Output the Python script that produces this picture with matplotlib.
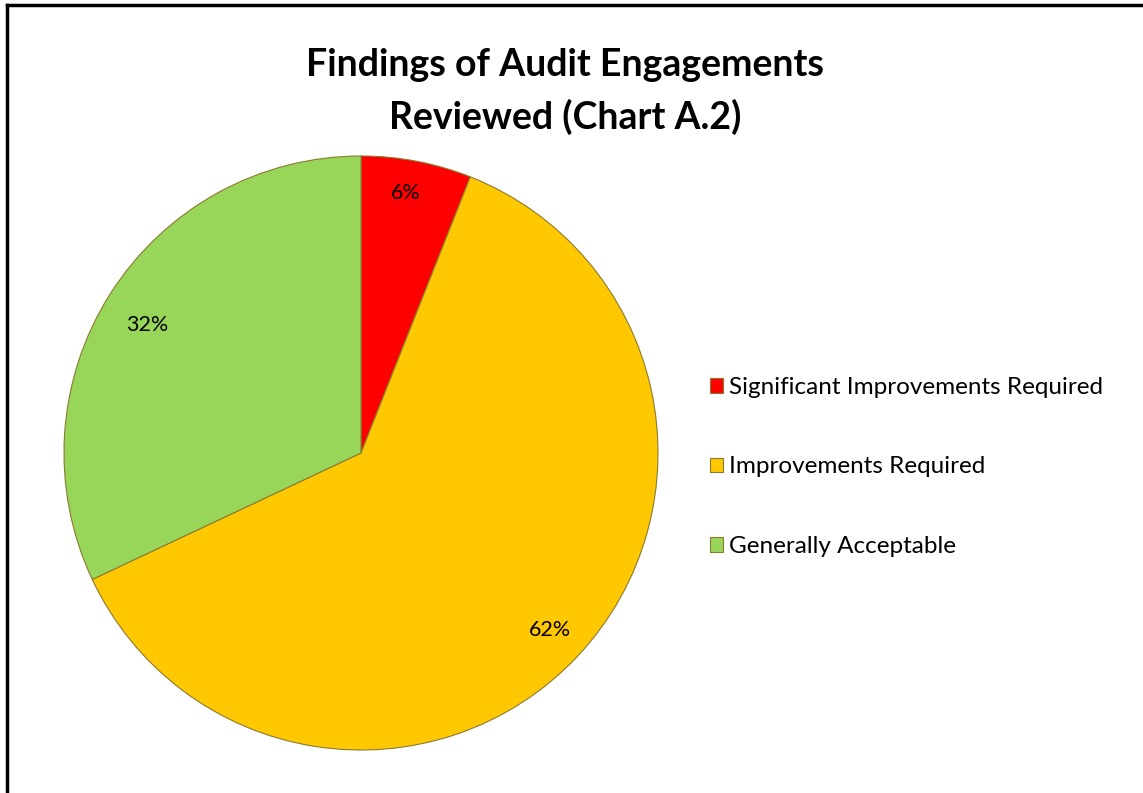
import matplotlib
matplotlib.use("Agg")
import matplotlib.pyplot as plt
from matplotlib.lines import Line2D

# chart values (percent of engagements reviewed)
categories = ["Significant Improvements Required", "Improvements Required", "Generally Acceptable"]
shares = [6, 62, 32]
colors = ["#FF0000", "#FFC800", "#98D65A"]

plt.rcParams['font.family'] = ['Lato', 'DejaVu Sans']

W, H = 1143, 793
fig = plt.figure(figsize=(W / 100, H / 100), dpi=100)

# black frame: only the left and top edges show in the picture
fig.lines.append(Line2D([7 / W, 7 / W], [0, 1 - 5 / H], transform=fig.transFigure, color="black", lw=2.5))
fig.lines.append(Line2D([7 / W, 1], [1 - 5 / H, 1 - 5 / H], transform=fig.transFigure, color="black", lw=2.5))

# pie axes: centre (361, 453), radius 297 px
cx, cy, r = 361, 453, 297
ax = fig.add_axes([(cx - r) / W, (H - cy - r) / H, 2 * r / W, 2 * r / H])
wedges, texts = ax.pie(shares, colors=colors, startangle=90, counterclock=False, radius=1.0,
                       wedgeprops=dict(edgecolor="#8a7a30", linewidth=0.8))
ax.set_xlim(-1, 1)
ax.set_ylim(-1, 1)
ax.axis("off")

# percentage labels
label_pos = [(406, 193), (550, 630), (147, 325)]
for (px, py), v in zip(label_pos, shares):
    fig.text(px / W, 1 - py / H, f"{v}%", ha="center", va="center", fontsize=15.5, color="black")

fig.text(565 / W, 1 - 65 / H, "Findings of Audit Engagements",
         ha="center", va="center", fontsize=27, fontweight="bold")
fig.text(565 / W, 1 - 117 / H, "Reviewed (Chart A.2)",
         ha="center", va="center", fontsize=27, fontweight="bold")

fig.legend(wedges, categories, loc="center left", bbox_to_anchor=(710 / W, 1 - 467 / H),
           frameon=False, fontsize=17.5, labelspacing=2.4, handlelength=0.55, handleheight=0.55,
           handletextpad=0.25, borderaxespad=0, borderpad=0)

fig.savefig("out.png", dpi=100)
